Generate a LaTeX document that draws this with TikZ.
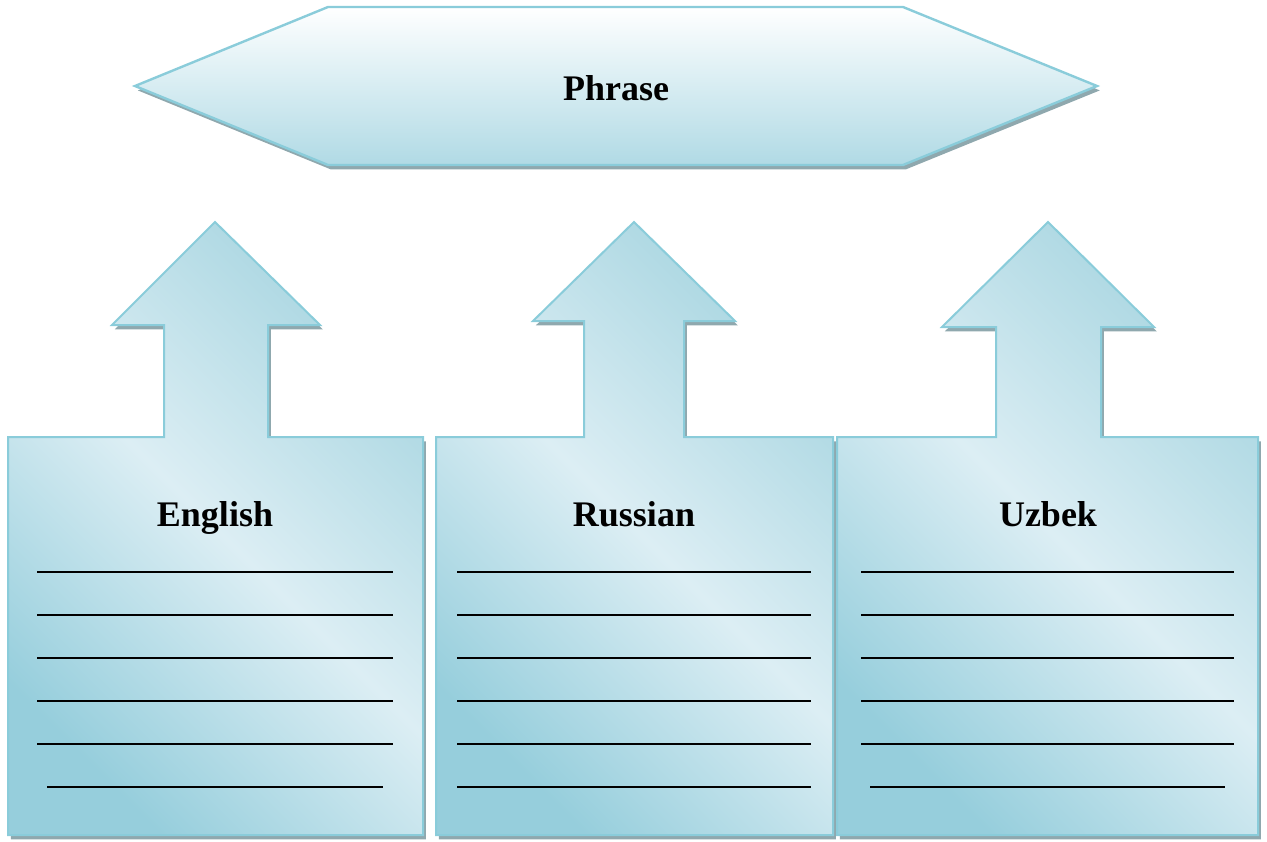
\documentclass[tikz,border=0pt]{standalone}
\usepackage{fontspec}
\setmainfont{Liberation Serif}
\usetikzlibrary{shadows}

\definecolor{edgeblue}{HTML}{8ACCDA}
\definecolor{deepblue}{HTML}{96CEDC}
\definecolor{topblue}{HTML}{A9D6E1}
\definecolor{paleblue}{HTML}{DCEEF4}
\definecolor{hexbottom}{HTML}{B0DAE5}
\definecolor{shadowgray}{HTML}{8FA8AE}

\begin{document}
\begin{tikzpicture}[x=0.5pt, y=-0.5pt,
    every node/.style={font=\fontsize{18}{21}\selectfont\bfseries, align=center, anchor=base},
    dropped/.style={drop shadow={shadow xshift=1.4pt, shadow yshift=-2.2pt,
                    opacity=1, fill=shadowgray}},
    hexshape/.style={draw=edgeblue, line width=1.2pt, dropped,
                     top color=white, bottom color=hexbottom},
    panel/.style   ={draw=edgeblue, line width=1pt, dropped,
                     top color=topblue, bottom color=deepblue,
                     middle color=paleblue, shading angle=-45},
    blank/.style={line width=1.4pt}
]
\useasboundingbox (0,0) rectangle (1267,841);

% top
\path[hexshape] (135,86) -- (328,7) -- (903,7) -- (1097,86) -- (903,165) -- (328,165) -- cycle;
\node (phrase) at (616,100) {Phrase};

% three boxes with arrows
\path[panel] (8,835) -- (8,437) -- (164,437) -- (164,325) -- (112,325) -- (215,222)
    -- (320,325) -- (268,325) -- (268,437) -- (423,437) -- (423,835) -- cycle;
\path[panel] (436,835) -- (436,437) -- (584,437) -- (584,321) -- (533,321) -- (634,222)
    -- (735,321) -- (684,321) -- (684,437) -- (833,437) -- (833,835) -- cycle;
\path[panel] (837,835) -- (837,437) -- (996,437) -- (996,327) -- (942,327) -- (1048,222)
    -- (1154,327) -- (1101,327) -- (1101,437) -- (1258,437) -- (1258,835) -- cycle;

\node (english) at (215,526) {English};
\node (russian) at (634,526) {Russian};
\node (uzbek)   at (1048,526) {Uzbek};

% blank lines
\foreach \yy in {572,615,658,701,744} {
    \draw[blank] (37,\yy) -- (393,\yy);
    \draw[blank] (457,\yy) -- (811,\yy);
    \draw[blank] (861,\yy) -- (1234,\yy);
}
\draw[blank] (47,787) -- (383,787);
\draw[blank] (457,787) -- (811,787);
\draw[blank] (870,787) -- (1225,787);
\end{tikzpicture}
\end{document}
